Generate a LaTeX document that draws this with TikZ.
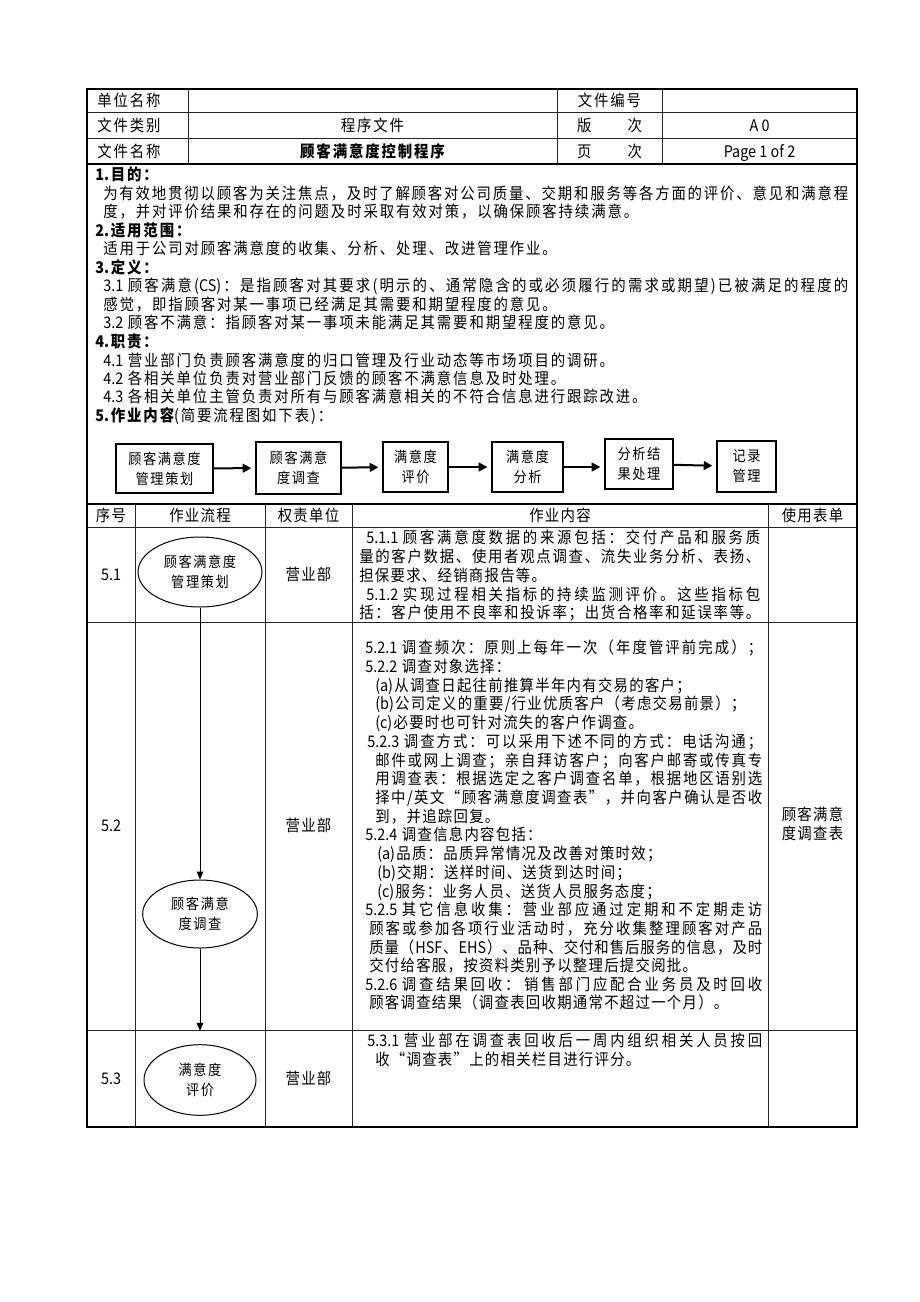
\documentclass[tikz,border=0pt]{standalone}
\usepackage{fontspec}
\setmainfont{Noto Sans CJK SC}[FakeStretch=0.9]
\usetikzlibrary{arrows.meta,shapes.geometric}
\newcount\cjkc
\newcommand\cjkrange[2]{\cjkc=#1\relax\loop\XeTeXcharclass\cjkc=1\relax\advance\cjkc by 1\relax\ifnum\cjkc<#2\relax\repeat}
\cjkrange{"4E00}{"A000}
\cjkrange{"3000}{"3040}
\cjkrange{"FF00}{"FFF0}
\XeTeXcharclass"2018=1 \XeTeXcharclass"2019=1 \XeTeXcharclass"201C=1 \XeTeXcharclass"201D=1
\newskip\cjkskip
\XeTeXinterchartoks 0 1 = {\hskip\cjkskip}
\XeTeXinterchartoks 1 0 = {\hskip\cjkskip}
\XeTeXinterchartoks 1 1 = {\hskip\cjkskip}
\hbadness=10000 \hfuzz=20pt
\newcommand\nsp{\hskip3.5pt\relax}
\newcommand\mainfs{\fontsize{12}{14}\selectfont\XeTeXinterchartokenstate=1\relax\cjkskip=0.95pt minus 0.9pt\relax}
\newcommand\secfs{\fontsize{12}{14}\selectfont\XeTeXinterchartokenstate=1\relax\cjkskip=1.4pt minus 0.9pt\relax}
\newcommand\smallfs{\fontsize{11}{15}\selectfont\XeTeXinterchartokenstate=1\relax\cjkskip=1.2pt\relax}
\newcommand\JL[6][jl]{\pgfmathsetmacro\mylw{(#4-#3)*0.75}\node[#1] (#2) at (#3,{#5+5.5}) {\hbox to \mylw pt{\advance\cjkskip by 0pt plus 1fil\relax #6}};}
\newcommand\NL[5][nl]{\node[#1] (#2) at (#3,{#4+5.5}) {#5};}
\newcommand\CL[5][cl]{\node[#1] (#2) at (#3,{#4+5.5}) {#5};}
\tikzset{
  nl/.style={anchor=base west, inner sep=0pt, font=\mainfs},
  jl/.style={anchor=base west, inner sep=0pt, font=\mainfs},
  sn/.style={anchor=base west, inner sep=0pt, font=\secfs},
  cl/.style={anchor=base, inner sep=0pt, font=\mainfs},
  sc/.style={anchor=base, inner sep=0pt, font=\secfs},
  ell/.style={ellipse, draw, line width=0.75pt, inner sep=0pt, align=center, font=\smallfs},
  fbox/.style={rectangle, draw, line width=0.9pt, inner sep=0pt, align=center, font=\smallfs},
  harrow/.style={line width=1.5pt, -{Triangle[length=6.5pt,width=6.5pt]}, shorten >=3pt},
  varrow/.style={line width=0.75pt, -{Triangle[length=6pt,width=5pt]}},
  thinline/.style={line width=0.75pt, draw=black!85},
  thickline/.style={line width=1.5pt, draw=black}
}
\begin{document}
\begin{tikzpicture}[x=0.75pt,y=-0.75pt]
\fill[white] (0,0) rectangle (920,1302);
\useasboundingbox (0,0) rectangle (920,1302);
% header grid
\draw[thinline] (87,113) -- (857,113) (87,139) -- (857,139);
\draw[thinline] (188,89) -- (188,164) (557,89) -- (557,164) (662,89) -- (662,164);
\draw[thickline] (87,164) -- (857,164);
% table grid
\draw[line width=1pt] (87,504) -- (857,504);
\draw[thinline] (87,527) -- (857,527) (87,622) -- (857,622) (87,1030) -- (857,1030);
\draw[thinline] (135,504) -- (135,1127) (265,504) -- (265,1127) (352,504) -- (352,1127) (768,504) -- (768,1127);
\draw[thickline] (87,89) rectangle (857,1127);
% header texts
\NL[sn]{h11}{97}{101}{单位名称}
\NL[sn]{h21}{97}{126}{文件类别}
\NL[sn]{h31}{97}{151.5}{文件名称}
\CL[sc]{h22}{372.5}{126}{程序文件}
\CL[sc]{h32}{372.5}{151.5}{\bfseries 顾客满意度控制程序}
\CL[sc]{h13}{609.5}{101}{文件编号}
\CL[sc]{h23}{609.5}{126}{版\hspace{27pt}次}
\CL[sc]{h33}{609.5}{151.5}{页\hspace{27pt}次}
\CL[sc]{h24}{759.5}{126}{A 0}
\CL[sc]{h34}{759.5}{151.5}{Page 1 of 2}
% section text
\NL[sn]{s1}{95}{175}{\bfseries 1.目的：}
\JL[sn]{s1a}{103}{848}{194}{为有效地贯彻以顾客为关注焦点，及时了解顾客对公司质量、交期和服务等各方面的评价、意见和满意程}
\NL[sn]{s1b}{103}{212}{度，并对评价结果和存在的问题及时采取有效对策，以确保顾客持续满意。}
\NL[sn]{s2}{95}{231}{\bfseries 2.适用范围：}
\NL[sn]{s2a}{103}{249}{适用于公司对顾客满意度的收集、分析、处理、改进管理作业。}
\NL[sn]{s3}{95}{268}{\bfseries 3.定义：}
\JL[sn]{s3a}{103}{848}{286}{3.1\nsp 顾客满意(CS)：是指顾客对其要求(明示的、通常隐含的或必须履行的需求或期望)已被满足的程度的}
\NL[sn]{s3b}{103}{305}{感觉，即指顾客对某一事项已经满足其需要和期望程度的意见。}
\NL[sn]{s3c}{103}{323}{3.2\nsp 顾客不满意：指顾客对某一事项未能满足其需要和期望程度的意见。}
\NL[sn]{s4}{95}{342}{\bfseries 4.职责：}
\NL[sn]{s4a}{103}{361}{4.1\nsp 营业部门负责顾客满意度的归口管理及行业动态等市场项目的调研。}
\NL[sn]{s4b}{103}{379}{4.2\nsp 各相关单位负责对营业部门反馈的顾客不满意信息及时处理。}
\NL[sn]{s4c}{103}{397}{4.3\nsp 各相关单位主管负责对所有与顾客满意相关的不符合信息进行跟踪改进。}
\NL[sn]{s5}{95}{416}{{\bfseries 5.作业内容}(简要流程图如下表)：}
% flow boxes
\node[fbox, minimum width=72.75pt, minimum height=36.75pt] (b1) at (164.5,468.5) {顾客满意度\\管理策划};
\node[fbox, minimum width=63.75pt, minimum height=39pt] (b2) at (298.5,468) {顾客满意\\度调查};
\node[fbox, minimum width=48.75pt, minimum height=37.5pt] (b3) at (415.5,467) {满意度\\评价};
\node[fbox, minimum width=53.25pt, minimum height=37.5pt] (b4) at (527.5,467) {满意度\\分析};
\node[fbox, minimum width=51pt, minimum height=37.5pt] (b5) at (639,464) {分析结\\果处理};
\node[fbox, minimum width=44.25pt, minimum height=38.25pt] (b6) at (746.5,466.5) {记录\\管理};
\draw[harrow] (b1) -- (b2);
\draw[harrow] (b2) -- (b3);
\draw[harrow] (b3) -- (b4);
\draw[harrow] (b4) -- (b5.west |- b4);
\draw[harrow] (b5) -- (b6);
% table header
\CL{t1}{111}{515.5}{序号}
\CL{t2}{200}{515.5}{作业流程}
\CL{t3}{308.5}{515.5}{权责单位}
\CL{t4}{560}{515.5}{作业内容}
\CL{t5}{812.5}{515.5}{使用表单}
% row 5.1
\CL{n51}{111}{575}{5.1}
\node[ell, minimum width=93pt, minimum height=52.5pt] (e1) at (200,572) {顾客满意度\\管理策划};
\CL{d51}{308.5}{575}{营业部}
\JL{c511}{366}{760}{538}{5.1.1\nsp 顾客满意度数据的来源包括：交付产品和服务质}
\JL{c512}{359}{760}{557}{量的客户数据、使用者观点调查、流失业务分析、表扬、}
\NL{c513}{359}{576}{担保要求、经销商报告等。}
\JL{c514}{366}{760}{595}{5.1.2\nsp 实现过程相关指标的持续监测评价。这些指标包}
\JL{c515}{359}{760}{613}{括：客户使用不良率和投诉率；出货合格率和延误率等。}
% row 5.2
\CL{n52}{111}{826}{5.2}
\node[ell, minimum width=86pt, minimum height=51pt] (e2) at (200,914) {顾客满意\\度调查};
\CL{d52}{308.5}{826}{营业部}
\CL{f52a}{812.5}{815}{顾客满意}
\CL{f52b}{812.5}{834}{度调查表}
\JL{c521}{365}{762}{648}{5.2.1\nsp 调查频次：原则上每年一次（年度管评前完成）；}
\NL{c522}{365}{667}{5.2.2\nsp 调查对象选择：}
\NL{c523}{375}{686}{(a)从调查日起往前推算半年内有交易的客户；}
\NL{c524}{375}{704}{(b)公司定义的重要/行业优质客户（考虑交易前景）；}
\NL{c525}{375}{723}{(c)必要时也可针对流失的客户作调查。}
\JL{c526}{367}{762}{742}{5.2.3\nsp 调查方式：可以采用下述不同的方式：电话沟通；}
\JL{c527}{375}{762}{761}{邮件或网上调查；亲自拜访客户；向客户邮寄或传真专}
\JL{c528}{375}{762}{779}{用调查表：根据选定之客户调查名单，根据地区语别选}
\JL{c529}{375}{762}{798}{择中/英文“顾客满意度调查表”，并向客户确认是否收}
\NL{c5210}{375}{817}{到，并追踪回复。}
\NL{c5211}{365}{835}{5.2.4\nsp 调查信息内容包括：}
\NL{c5212}{377}{854}{(a)品质：品质异常情况及改善对策时效；}
\NL{c5213}{377}{873}{(b)交期：送样时间、送货到达时间；}
\NL{c5214}{377}{892}{(c)服务：业务人员、送货人员服务态度；}
\JL{c5215}{365}{762}{910}{5.2.5\nsp 其它信息收集：营业部应通过定期和不定期走访}
\JL{c5216}{369}{762}{929}{顾客或参加各项行业活动时，充分收集整理顾客对产品}
\JL{c5217}{369}{762}{948}{质量（HSF、EHS）、品种、交付和售后服务的信息，及时}
\NL{c5218}{369}{966}{交付给客服，按资料类别予以整理后提交阅批。}
\JL{c5219}{365}{762}{985}{5.2.6\nsp 调查结果回收：\nsp 销售部门应配合业务员及时回收}
\NL{c5220}{369}{1003}{顾客调查结果（调查表回收期通常不超过一个月）。}
% row 5.3
\CL{n53}{111}{1079}{5.3}
\node[ell, minimum width=84pt, minimum height=53pt] (e3) at (200,1080) {满意度\\评价};
\CL{d53}{308.5}{1079}{营业部}
\JL{c531}{367}{762}{1041}{5.3.1\nsp 营业部在调查表回收后一周内组织相关人员按回}
\NL{c532}{375}{1060}{收“调查表”上的相关栏目进行评分。}
% vertical connectors
\draw[varrow] (e1.south) -- (e2.north);
\draw[varrow, shorten >=10pt] (e2.south) -- (e3.north);
\end{tikzpicture}
\end{document}
